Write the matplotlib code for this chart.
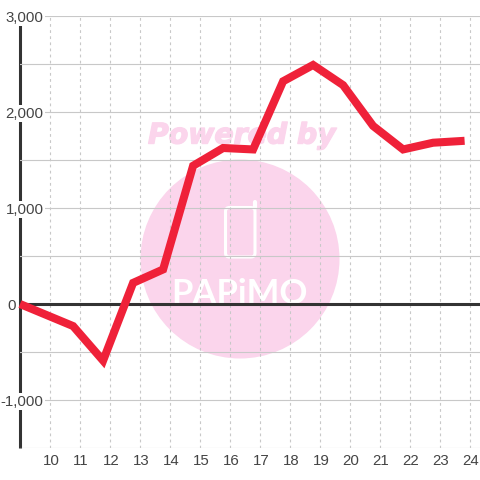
import matplotlib
matplotlib.use("Agg")
import matplotlib.pyplot as plt
import matplotlib.patheffects as pe
from matplotlib.patches import Circle, FancyBboxPatch
from matplotlib.transforms import Affine2D

hours = [9, 10.77, 11.77, 12.77, 13.77, 14.77, 15.77, 16.77, 17.77, 18.77, 19.77, 20.77, 21.77, 22.77, 23.82]
values = [0, -230, -590, 220, 360, 1440, 1625, 1610, 2320, 2490, 2280, 1855, 1610, 1680, 1700]
x_ticks = list(range(10, 25))
y_ticks = [-1500, -1000, -500, 0, 500, 1000, 1500, 2000, 2500, 3000]
y_labels = ["", "-1,000", "", "0", "", "1,000", "", "2,000", "", "3,000"]

plt.rcParams["font.family"] = ["Liberation Sans", "DejaVu Sans"]

fig = plt.figure(figsize=(4.8, 4.8), dpi=100)
ax = fig.add_axes([20 / 480, 32 / 480, 460 / 480, 432 / 480])
ax.set_xlim(9, 9 + 460 / 30)
ax.set_ylim(-1500, 3000)
ax.patch.set_visible(False)
ax.set_axisbelow(True)
for s in ax.spines.values():
    s.set_visible(False)

# watermark, in pixels from the top left corner
px = Affine2D().scale(1 / 480, -1 / 480).translate(0, 1) + fig.transFigure
pink = "#fbd5ec"
fig.add_artist(Circle((240, 259), 99.5, transform=px, fc=pink, ec="none", zorder=-5))
fig.add_artist(FancyBboxPatch((225.5, 207.5), 29.5, 49.5, boxstyle="round,pad=0,rounding_size=4",
                              transform=px, fc="none", ec="white", lw=2.2, zorder=-4))
fig.add_artist(plt.Line2D([254.5, 254.5], [208, 202], transform=px, color="white", lw=3,
                          solid_capstyle="round", zorder=-4))
fig.text(148 / 480, 1 - 135.5 / 480, "Powered by", color=pink, fontsize=20.4, family="DejaVu Sans",
         weight="bold", style="italic", va="center", ha="left", zorder=-4,
         path_effects=[pe.withStroke(linewidth=1, foreground=pink)])
fig.text(240 / 480, 1 - 304 / 480, "PAPiMO", color="white", fontsize=25, family="Lato",
         weight="bold", va="baseline", ha="center", zorder=-4)

# left axis line sits under the labels
ax.plot([9, 9], [-1500, 2945], color="#333333", lw=2.2, solid_capstyle="butt", zorder=0.3, clip_on=False)

ax.set_yticks(y_ticks)
ax.set_yticklabels(y_labels)
ax.set_xticks(x_ticks)
ax.grid(axis="y", color="#c8c8c8", lw=0.8)
ax.grid(axis="x", color="#c8c8c8", lw=0.8, linestyle=(0, (2.5, 3)))
ax.tick_params(axis="both", length=0, labelcolor="#444444", labelsize=10.8)
ax.tick_params(axis="x", pad=4.5)
ax.tick_params(axis="y", pad=-17)
for tick, label in zip(ax.yaxis.get_major_ticks(), y_labels):
    tick.label1.set_bbox(dict(fc="white", ec="none", pad=0.8) if label and label != "0" else dict(alpha=0))
    if label == "0":
        tick.set_pad(3)
for label in ax.get_xticklabels():
    label.set_transform(label.get_transform() + Affine2D().translate(1, 0))

ax.axhline(0, color="#333333", lw=2.2, zorder=1)
ax.plot(hours, values, color="#ef2139", lw=5.8, solid_joinstyle="miter", solid_capstyle="butt",
        zorder=3, clip_on=False)

fig.savefig("out.png", dpi=100)
